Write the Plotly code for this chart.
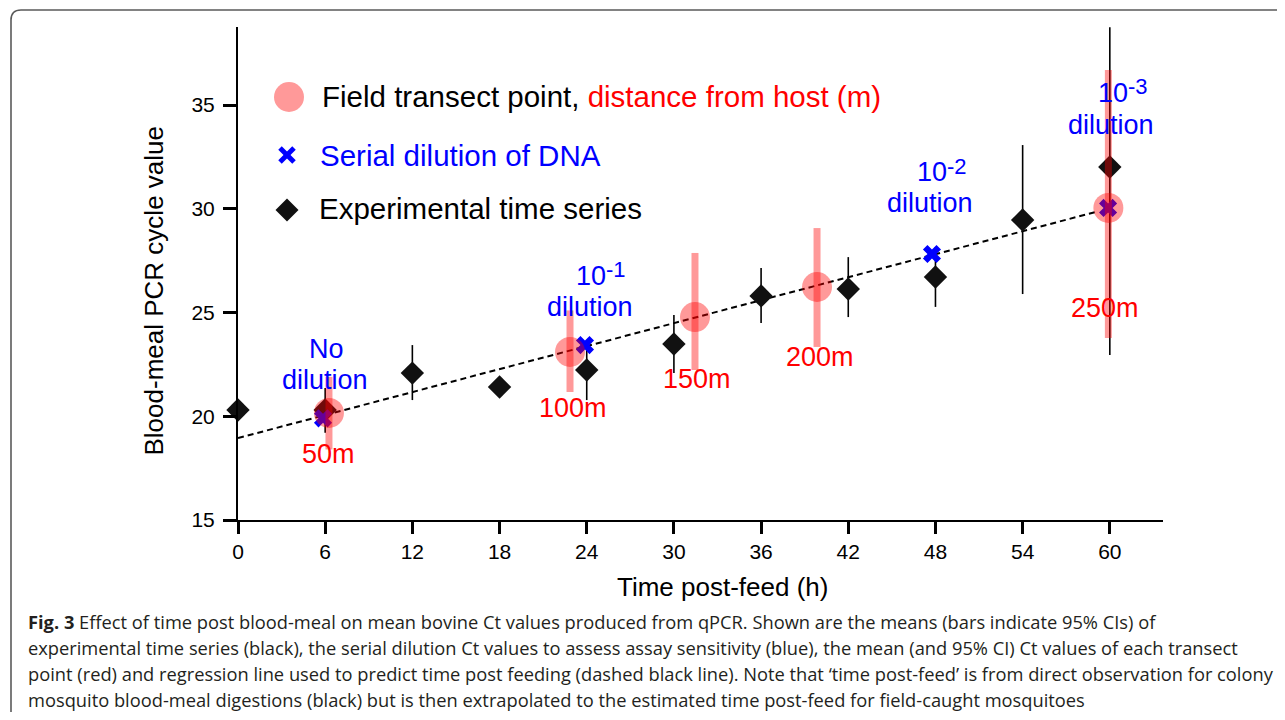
import plotly.graph_objects as go

# ---------------- data ----------------
# Experimental time series (black diamonds, mean and 95% CI)
exp_time = [0, 6, 12, 18, 24, 30, 36, 42, 48, 54, 60]
exp_ct = [20.30, 20.30, 22.08, 21.41, 22.23, 23.48, 25.80, 26.13, 26.71, 29.46, 32.01]
exp_ci_low = [20.30, 19.20, 20.78, 21.41, 20.78, 22.08, 24.49, 24.78, 25.27, 25.89, 22.95]
exp_ci_high = [20.30, 21.36, 23.43, 21.41, 23.67, 24.88, 27.14, 27.67, 28.16, 33.07, 38.75]

# Serial dilution of DNA (blue crosses)
dil_time = [5.85, 23.88, 47.76, 59.88]
dil_ct = [19.90, 23.43, 27.82, 30.04]

# Field transect points (red circles, mean and 95% CI)
field_time = [6.26, 22.85, 31.45, 39.85, 59.90]
field_ct = [20.16, 23.10, 24.78, 26.23, 30.04]
field_ci_low = [18.40, 21.17, 22.23, 23.34, 23.77]
field_ci_high = [21.90, 25.10, 27.87, 29.07, 36.69]
field_labels = ["50m", "100m", "150m", "200m", "250m"]

# Regression line
reg_time = [0, 59]
reg_ct = [18.95, 29.84]

# Axis ticks
x_ticks = [0, 6, 12, 18, 24, 30, 36, 42, 48, 54, 60]
y_ticks = [15, 20, 25, 30, 35]

# ---------------- styling ----------------
FONT = "Liberation Sans, Arial, Helvetica, sans-serif"
CAP_FONT = "Open Sans, Noto Sans, sans-serif"
RED_A = "rgba(255,0,0,0.4)"
BLUE = "#0000ff"
RED = "#ff0000"

fig = go.Figure()

fig.add_trace(go.Scatter(
    x=reg_time, y=reg_ct, mode="lines",
    line=dict(color="black", width=2, dash="6px,4px"),
    hoverinfo="skip"))

fig.add_trace(go.Scatter(
    x=exp_time, y=exp_ct, mode="markers", cliponaxis=False,
    marker=dict(symbol="diamond", size=18, color="#111111"),
    error_y=dict(type="data", symmetric=False,
                 array=[h - m for h, m in zip(exp_ci_high, exp_ct)],
                 arrayminus=[m - l for m, l in zip(exp_ct, exp_ci_low)],
                 color="black", thickness=1.6, width=0),
    name="Experimental time series"))

fig.add_trace(go.Scatter(
    x=dil_time, y=dil_ct, mode="markers", cliponaxis=False,
    marker=dict(symbol="x", size=16, color=BLUE),
    name="Serial dilution of DNA"))

fig.add_trace(go.Scatter(
    x=field_time, y=field_ct, mode="markers", cliponaxis=False,
    marker=dict(symbol="circle", size=30, color=RED_A),
    error_y=dict(type="data", symmetric=False,
                 array=[h - m for h, m in zip(field_ci_high, field_ct)],
                 arrayminus=[m - l for m, l in zip(field_ct, field_ci_low)],
                 color=RED_A, thickness=7, width=0),
    name="Field transect point"))

annotations = []

def ann(x, y, text, size, color, xref="x", yref="y", xanchor="center", **kw):
    annotations.append(dict(x=x, y=y, xref=xref, yref=yref, text=text, showarrow=False,
                            xanchor=xanchor, yanchor="middle",
                            font=dict(family=kw.pop("family", FONT), size=size, color=color), **kw))

# distance labels
label_pos = [(6.26, 18.18), (23.06, 20.40), (31.59, 21.80), (40.06, 22.86), (59.67, 25.22)]
for (lx, ly), t in zip(label_pos, field_labels):
    ann(lx, ly, t, 27, RED)

# dilution labels
ann(6.06, 23.24, "No", 27, BLUE)
ann(5.99, 21.75, "dilution", 27, BLUE)
for (bx, by), (ex, ey), e, (dx, dy) in [
        ((24.29, 26.76), (25.98, 27.07), "-1", (24.23, 25.27)),
        ((47.73, 31.77), (49.45, 32.06), "-2", (47.63, 30.28)),
        ((60.19, 35.58), (61.97, 35.87), "-3", (60.08, 34.04))]:
    ann(bx, by, "10", 27, BLUE)
    ann(ex, ey, e, 22, BLUE)
    ann(dx, dy, "dilution", 27, BLUE)

# pixel helpers (plot area in window pixels: x 238..1163, y 27..520)
def px(p):
    return (p - 238) / 925.0

def py(p):
    return (520 - p) / 493.0

# legend texts
ann(px(320), py(97), 'Field transect point, <span style="color:#ff0000">distance from host (m)</span>',
    29.5, "black", xref="paper", yref="paper", xanchor="left")
ann(px(318), py(155), "Serial dilution of DNA", 29.5, BLUE, xref="paper", yref="paper", xanchor="left")
ann(px(317), py(209), "Experimental time series", 29.5, "black", xref="paper", yref="paper", xanchor="left")

# axis titles
ann(px(722), py(587), "Time post-feed (h)", 26, "black", xref="paper", yref="paper")
ann(px(153), py(291.5), "Blood-meal PCR cycle value", 26, "black", xref="paper", yref="paper", textangle=-90)

# caption
cap_lines = [
    "<b>Fig. 3</b> Effect of time post blood-meal on mean bovine Ct values produced from qPCR. Shown are the means (bars indicate 95% CIs) of",
    "experimental time series (black), the serial dilution Ct values to assess assay sensitivity (blue), the mean (and 95% CI) Ct values of each transect",
    "point (red) and regression line used to predict time post feeding (dashed black line). Note that \u2018time post-feed\u2019 is from direct observation for colony",
    "mosquito blood-meal digestions (black) but is then extrapolated to the estimated time post-feed for field-caught mosquitoes",
]
for i, line in enumerate(cap_lines):
    ann(px(26), py(621 + 26.0 * i), line, 18.3, "#231f20", xref="paper", yref="paper",
        xanchor="left", family=CAP_FONT)

# shapes: legend keys and frame (pixel offsets from plot-area bottom-left corner)
def pix_shape(kind, **kw):
    d = dict(type=kind, xref="paper", yref="paper", xsizemode="pixel", ysizemode="pixel",
             xanchor=0, yanchor=0)
    d.update(kw)
    return d

shapes = []
# pink circle
cx, cy = 289 - 238, 520 - 97
shapes.append(pix_shape("circle", x0=cx - 15, x1=cx + 15, y0=cy - 15, y1=cy + 15,
                        fillcolor=RED_A, line=dict(width=0)))
# blue cross
cx, cy = 287 - 238, 520 - 155
for s in (1, -1):
    shapes.append(pix_shape("line", x0=cx - 7, x1=cx + 7, y0=cy - 7 * s, y1=cy + 7 * s,
                            line=dict(color=BLUE, width=5)))
# black diamond
cx, cy = 287 - 238, 520 - 210
h = 11.5
shapes.append(pix_shape("path",
                        path=f"M {cx},{cy + h} L {cx + h},{cy} L {cx},{cy - h} L {cx - h},{cy} Z",
                        fillcolor="#111111", line=dict(width=0)))
# outer frame with rounded top-left corner
L, T, B, R = 11 - 238, 520 - 10, 520 - 712, 1300 - 238
shapes.append(pix_shape("path",
                        path=f"M {L},{B} L {L},{T - 10} Q {L},{T} {L + 10},{T} L {R},{T}",
                        line=dict(color="#5a5a5a", width=1.6)))

axis_common = dict(showline=True, linecolor="black", linewidth=2, ticks="outside",
                   tickwidth=3, tickcolor="black", showgrid=False, zeroline=False,
                   tickfont=dict(family=FONT, size=21, color="black"))

# the page body has an 8px margin, so the figure is 8px smaller than the window
fig.update_layout(
    width=1277, height=712,
    margin=dict(l=230, r=122, t=19, b=200, pad=0),
    plot_bgcolor="white", paper_bgcolor="white",
    showlegend=False,
    xaxis=dict(range=[0, 63.66], tickvals=x_ticks, ticklen=12, **axis_common),
    yaxis=dict(range=[15, 38.76], tickvals=y_ticks, ticklen=13, ticklabelstandoff=4,
               **axis_common),
    annotations=annotations,
    shapes=shapes,
)

fig.write_html("out.html")
